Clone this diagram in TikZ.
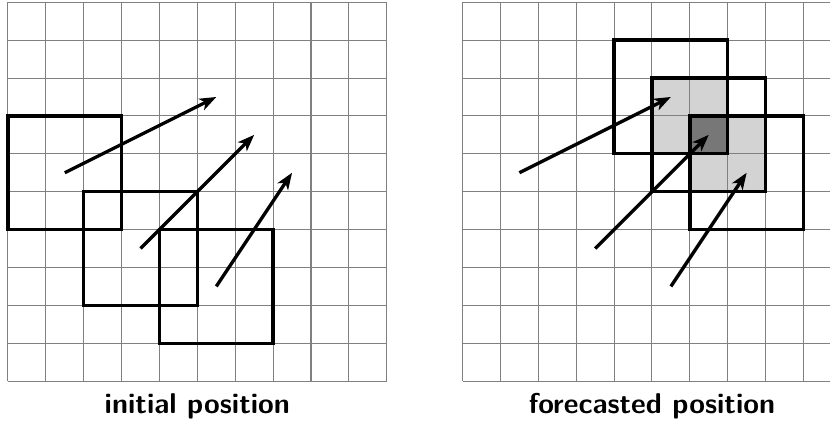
\documentclass[tikz,border=0pt]{standalone}
\usepackage{tikz}
\usetikzlibrary{arrows.meta}
\definecolor{gridline}{HTML}{808080}
\definecolor{overlap}{HTML}{D3D3D3}
\definecolor{triple}{HTML}{777777}

\begin{document}
\begin{tikzpicture}[font=\sffamily\bfseries\fontsize{21.5}{24}\selectfont,
    cell/.style={draw=gridline, line width=0.8pt},
    window/.style={draw=black, line width=2.5pt},
    move/.style={-{Stealth[length=4.4mm,width=3.3mm,inset=1.2mm]}, line width=2.5pt}]

  \useasboundingbox (-0.21,-1.30) rectangle (21.7,10.06);

  % overlap shading (forecasted)
  \fill[overlap] (17,6) rectangle (19,8);
  \fill[overlap] (18,5) rectangle (20,7);
  \fill[triple] (18,6) rectangle (19,7);

  % grids
  \draw[cell] (0,0) grid (10,10);
  \draw[cell] (12,0) grid (22,10);

  % initial windows
  \draw[window] (0,4) rectangle (3,7);
  \draw[window] (2,2) rectangle (5,5);
  \draw[window] (4,1) rectangle (7,4);

  % forecasted windows
  \draw[window] (16,6) rectangle (19,9);
  \draw[window] (17,5) rectangle (20,8);
  \draw[window] (18,4) rectangle (21,7);

  % motion vectors
  \coordinate (l1s) at (1.5,5.5);  \coordinate (l1e) at (5.5,7.5);
  \coordinate (l2s) at (3.5,3.5);  \coordinate (l2e) at (6.5,6.5);
  \coordinate (l3s) at (5.5,2.5);  \coordinate (l3e) at (7.5,5.5);
  \coordinate (r1s) at (13.5,5.5); \coordinate (r1e) at (17.5,7.5);
  \coordinate (r2s) at (15.5,3.5); \coordinate (r2e) at (18.5,6.5);
  \coordinate (r3s) at (17.5,2.5); \coordinate (r3e) at (19.5,5.5);
  \draw[move] (l1s) -- (l1e);
  \draw[move] (l2s) -- (l2e);
  \draw[move] (l3s) -- (l3e);
  \draw[move] (r1s) -- (r1e);
  \draw[move] (r2s) -- (r2e);
  \draw[move] (r3s) -- (r3e);

  % captions
  \node[anchor=base] (initial) at (5,-0.85) {initial position};
  \node[anchor=base] (forecast) at (17,-0.85) {forecasted position};
\end{tikzpicture}
\end{document}
